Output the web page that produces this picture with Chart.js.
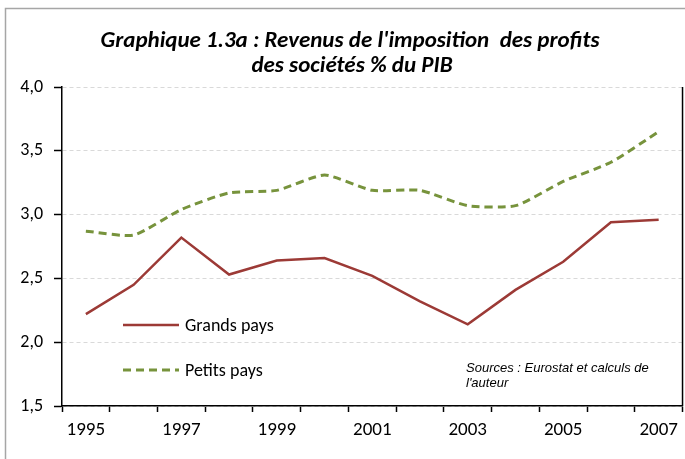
<!DOCTYPE html>
<html><head><meta charset="utf-8">
<script src="https://cdn.jsdelivr.net/npm/chart.js@4/dist/chart.umd.min.js"></script>
<style>html,body{margin:0;padding:0;background:#fff}canvas{display:block}</style>
</head><body>
<canvas id="c" width="685" height="459"></canvas>
<script>
const years = ['1995','1996','1997','1998','1999','2000','2001','2002','2003','2004','2005','2006','2007'];
const grandsPays = [2.22,2.45,2.82,2.53,2.64,2.66,2.52,2.32,2.14,2.41,2.63,2.94,2.96];
const petitsPays = [2.87,2.84,3.04,3.17,3.19,3.31,3.19,3.19,3.07,3.07,3.26,3.41,3.65];
const seriesNames = ['Grands pays','Petits pays'];
const titleLines = ["Graphique 1.3a : Revenus de l'imposition  des profits", "des sociétés % du PIB"];
const sourceLines = ['Sources : Eurostat et calculs de', "l'auteur"];
const yMin = 1.5, yMax = 4.0, yStep = 0.5;

const FONT = "Carlito, Lato, 'Open Sans', sans-serif";
const RED = '#9c3a36';
const GREEN = '#77933c';

const decor = {
  id: 'decor',
  beforeDraw(chart) {
    const ctx = chart.ctx;
    ctx.save();
    ctx.fillStyle = '#fff';
    ctx.fillRect(0, 0, chart.width, chart.height);
    ctx.strokeStyle = '#a6a6a6';
    ctx.lineWidth = 1.5;
    ctx.strokeRect(5.5, 8.5, 720, 480);
    ctx.restore();
  },
  afterDraw(chart) {
    const ctx = chart.ctx;
    const a = chart.chartArea;
    ctx.save();
    ctx.strokeStyle = '#000';
    ctx.lineWidth = 1.5;
    ctx.beginPath();
    ctx.moveTo(a.right, a.top);
    ctx.lineTo(a.right, a.bottom);
    ctx.stroke();
    // title
    ctx.fillStyle = '#000';
    ctx.textAlign = 'center';
    ctx.textBaseline = 'middle';
    ctx.font = "italic bold 23px " + FONT;
    ctx.fillText(titleLines[0], 350, 41);
    ctx.fillText(titleLines[1], 352, 66);
    // legend
    const ds = chart.data.datasets;
    const legY = [325, 370];
    ctx.font = "18px " + FONT;
    ctx.textAlign = 'left';
    for (let i = 0; i < ds.length; i++) {
      ctx.strokeStyle = ds[i].borderColor;
      ctx.lineWidth = ds[i].borderWidth;
      ctx.setLineDash(ds[i].borderDash || []);
      ctx.beginPath();
      ctx.moveTo(123, legY[i]);
      ctx.lineTo(179, legY[i]);
      ctx.stroke();
      ctx.setLineDash([]);
      ctx.fillStyle = '#000';
      ctx.fillText(seriesNames[i], 185, legY[i] + 1);
    }
    // sources
    ctx.font = "italic 13px 'Liberation Sans', Arial, sans-serif";
    ctx.fillStyle = '#000';
    ctx.fillText(sourceLines[0], 466, 368);
    ctx.fillText(sourceLines[1], 466, 383);
    ctx.restore();
  }
};

new Chart(document.getElementById('c'), {
  type: 'line',
  data: {
    labels: years,
    datasets: [
      { label: seriesNames[0], data: grandsPays, borderColor: RED, backgroundColor: RED, borderWidth: 2.5, pointRadius: 0, tension: 0, fill: false },
      { label: seriesNames[1], data: petitsPays, borderColor: GREEN, backgroundColor: GREEN, borderWidth: 3, borderDash: [8, 5], pointRadius: 0, tension: 0.2, fill: false }
    ]
  },
  options: {
    responsive: false,
    animation: false,
    layout: { padding: { top: 87, left: 0, right: 2, bottom: 0 } },
    plugins: { legend: { display: false }, title: { display: false }, tooltip: { enabled: false } },
    scales: {
      x: {
        offset: true,
        grid: { display: true, offset: true, drawOnChartArea: false, drawTicks: true, tickLength: 6, tickColor: '#000', tickWidth: 1.5 },
        border: { display: true, color: '#000', width: 1.5 },
        ticks: {
          autoSkip: false, maxRotation: 0, padding: 7, color: '#000',
          font: { family: FONT, size: 19 },
          callback: (v, i) => (i % 2 === 0 ? years[i] : '')
        },
        afterFit: (s) => { s.height = 53; }
      },
      y: {
        min: yMin, max: yMax,
        grid: { color: '#d9d9d9', lineWidth: 1, drawTicks: true, tickLength: 8, tickColor: '#000', tickWidth: 1.5 },
        border: { display: true, color: '#000', width: 1.5, dash: [4, 3] },
        ticks: {
          stepSize: yStep, padding: 11, color: '#000',
          font: { family: FONT, size: 18 },
          callback: (v) => v.toFixed(1).replace('.', ',')
        },
        afterFit: (s) => { s.width = 62; }
      }
    }
  },
  plugins: [decor]
});
</script>
</body></html>
